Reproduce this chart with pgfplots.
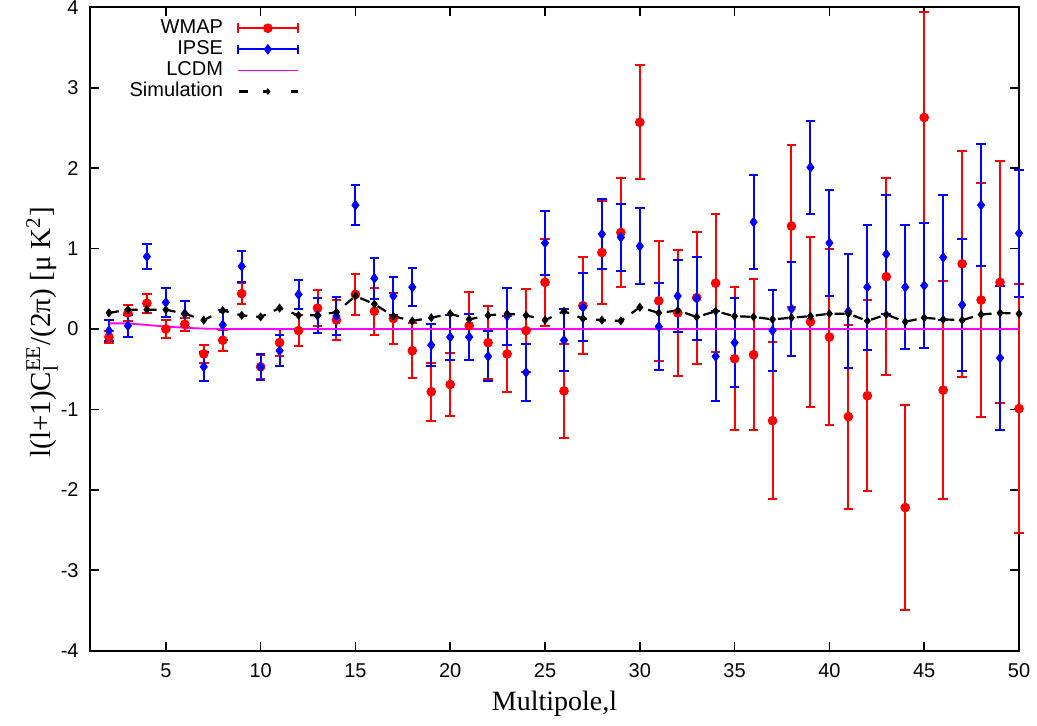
\documentclass[border=0pt]{standalone}
\usepackage{fontspec}
\setmainfont{Liberation Sans}
\newfontfamily\serif{Liberation Serif}
\usepackage{pgfplots}
\pgfplotsset{compat=1.18}
\usepackage{pgfplotstable}
\definecolor{pmag}{RGB}{255,0,255}

\pgfplotstableread{
l v e
2 -0.10 0.08
3 0.20 0.10
4 0.32 0.12
5 0.00 0.115
6 0.06 0.08
7 -0.31 0.115
8 -0.14 0.13
9 0.44 0.135
10 -0.47 0.15
11 -0.17 0.165
12 -0.02 0.19
13 0.26 0.225
14 0.11 0.245
15 0.43 0.26
16 0.22 0.29
17 0.13 0.315
18 -0.27 0.34
19 -0.78 0.36
20 -0.69 0.39
21 0.04 0.42
22 -0.17 0.455
23 -0.31 0.475
24 -0.02 0.52
25 0.58 0.54
26 -0.77 0.58
27 0.29 0.605
28 0.95 0.645
29 1.20 0.675
30 2.57 0.71
31 0.35 0.745
32 0.20 0.78
33 0.39 0.82
34 0.57 0.855
35 -0.37 0.89
36 -0.32 0.94
37 -1.14 0.975
38 1.28 1.01
39 0.09 1.06
40 -0.10 1.095
41 -1.09 1.145
42 -0.83 1.185
43 0.65 1.225
44 -2.22 1.27
45 2.63 1.315
46 -0.76 1.36
47 0.81 1.405
48 0.36 1.45
49 0.58 1.505
50 -0.99 1.545
}\wmap

\pgfplotstableread{
l v e
2 -0.02 0.13
3 0.04 0.135
4 0.90 0.155
5 0.33 0.18
6 0.19 0.16
7 -0.47 0.18
8 0.05 0.185
9 0.78 0.195
10 -0.47 0.16
11 -0.27 0.19
12 0.43 0.18
13 0.17 0.22
14 0.16 0.24
15 1.54 0.245
16 0.63 0.255
17 0.41 0.235
18 0.52 0.235
19 -0.20 0.265
20 -0.10 0.28
21 -0.10 0.29
22 -0.34 0.31
23 0.16 0.355
24 -0.54 0.355
25 1.07 0.395
26 -0.14 0.385
27 0.27 0.425
28 1.18 0.435
29 1.14 0.42
30 1.03 0.47
31 0.03 0.54
32 0.41 0.445
33 0.38 0.515
34 -0.34 0.56
35 -0.17 0.555
36 1.33 0.58
37 -0.02 0.505
38 0.25 0.585
39 2.01 0.58
40 1.07 0.655
41 0.22 0.71
42 0.52 0.775
43 0.93 0.74
44 0.52 0.77
45 0.54 0.775
46 0.89 0.775
47 0.30 0.825
48 1.54 0.76
49 -0.36 0.89
50 1.19 0.79
}\ipse

\pgfplotstableread{
l v
2 0.07
3 0.07
4 0.05
5 0.03
6 0.015
7 0.005
8 0.0
9 0.0
10 0.0
20 0.0
30 0.0
40 0.0
50 0.0
}\lcdmdata

\pgfplotstableread{
l v
2 0.20
3 0.24
4 0.24
5 0.24
6 0.19
7 0.11
8 0.23
9 0.17
10 0.15
11 0.26
12 0.17
13 0.17
14 0.21
15 0.41
16 0.31
17 0.16
18 0.10
19 0.14
20 0.19
21 0.12
22 0.17
23 0.19
24 0.17
25 0.11
26 0.22
27 0.13
28 0.11
29 0.10
30 0.27
31 0.20
32 0.23
33 0.15
34 0.22
35 0.16
36 0.15
37 0.12
38 0.14
39 0.16
40 0.19
41 0.19
42 0.10
43 0.18
44 0.09
45 0.14
46 0.12
47 0.11
48 0.18
49 0.20
50 0.19
}\simdata

\newcommand{\ssub}[1]{\hbox{\serif\fontsize{10.5}{12}\selectfont #1}}

\begin{document}
\begin{tikzpicture}
\begin{axis}[
  at={(0,0)}, anchor=south west,
  scale only axis, width=464.5pt, height=321.7pt,
  xmin=1, xmax=50, ymin=-4, ymax=4,
  clip=false,
  xtick={5,10,15,20,25,30,35,40,45,50},
  xticklabels={5,10,15,20,25,30,35,40,45,50},
  ytick={-4,-3,-2,-1,0,1,2,3,4},
  yticklabels={-4,-3,-2,-1,0,1,2,3,4},
  tick align=inside, major tick length=4.5pt,
  every tick/.style={black, line width=0.8pt},
  axis line style={line width=0.9pt},
  xticklabel style={font=\fontsize{10}{12}\selectfont, anchor=base, inner sep=0pt, yshift=-13.5pt},
  yticklabel style={font=\fontsize{10}{12}\selectfont, anchor=east, inner sep=0pt, xshift=-5.5pt},
  xlabel={\serif\fontsize{14}{16}\selectfont Multipole,l},
  xlabel style={at={(axis description cs:0.5,-0.0937)}, anchor=base},
  ylabel={\serif\fontsize{14.5}{16}\selectfont l(l+1)C$^{\ssub{EE}}_{\ssub{l}}$/(2π) [μ K$^{\ssub{2}}$]},
  ylabel style={at={(axis description cs:-0.0517,0.495)}, anchor=center},
  legend cell align=right,
  legend plot pos=right,
  legend style={at={(axis description cs:0.0426,0.983)}, anchor=north west,
    draw=none, fill=none, inner sep=0pt, outer sep=0pt,
    row sep=0.55pt, column sep=7pt,
    font=\fontsize{10}{12}\selectfont,
    nodes={inner sep=0pt, text height=7.5pt, text depth=2.5pt}},
]
\addplot[forget plot, only marks, red, mark=*, mark size=2.2pt,
  error bars/.cd, y dir=both, y explicit,
  error bar style={red, line width=1pt},
  error mark options={rotate=90, red, mark size=2.4pt, line width=1pt}]
  table[x=l, y=v, y error=e] {\wmap};
\addplot[forget plot, only marks, blue, mark=diamond*, mark size=2.4pt,
  error bars/.cd, y dir=both, y explicit,
  error bar style={blue, line width=1pt},
  error mark options={rotate=90, blue, mark size=2.4pt, line width=1pt}]
  table[x=l, y=v, y error=e] {\ipse};
\addplot[forget plot, pmag, line width=0.9pt, no marks] table[x=l, y=v] {\lcdmdata};
\addplot[forget plot, black, line width=1.1pt, dash pattern=on 5pt off 4.5pt,
  mark=diamond*, mark size=1.4pt, mark options={solid}] table[x=l, y=v] {\simdata};

\addlegendimage{legend image code/.code={
  \draw[red, line width=0.9pt] (0pt,0pt) -- (30pt,0pt) (0pt,-2.4pt) -- (0pt,2.4pt) (30pt,-2.4pt) -- (30pt,2.4pt);
  \fill[red] (15pt,0pt) circle (2.2pt);}}
\addlegendentry{WMAP}
\addlegendimage{legend image code/.code={
  \draw[blue, line width=0.9pt] (0pt,0pt) -- (30pt,0pt) (0pt,-2.4pt) -- (0pt,2.4pt) (30pt,-2.4pt) -- (30pt,2.4pt);
  \fill[blue] (15pt,2.4pt) -- (16.8pt,0pt) -- (15pt,-2.4pt) -- (13.2pt,0pt) -- cycle;}}
\addlegendentry{IPSE}
\addlegendimage{legend image code/.code={
  \draw[pmag, line width=0.9pt] (0pt,0pt) -- (30pt,0pt);}}
\addlegendentry{LCDM}
\addlegendimage{legend image code/.code={
  \draw[black, line width=1.1pt] (0.5pt,0pt) -- (5pt,0pt) (12.5pt,0pt) -- (15pt,0pt) (26.5pt,0pt) -- (30pt,0pt);
  \fill[black] (15pt,1.4pt) -- (16.05pt,0pt) -- (15pt,-1.4pt) -- (13.95pt,0pt) -- cycle;}}
\addlegendentry{Simulation}
\end{axis}
\pgfresetboundingbox
\path (-45pt,-37.65pt) rectangle (473.5pt,325.35pt);
\end{tikzpicture}
\end{document}
